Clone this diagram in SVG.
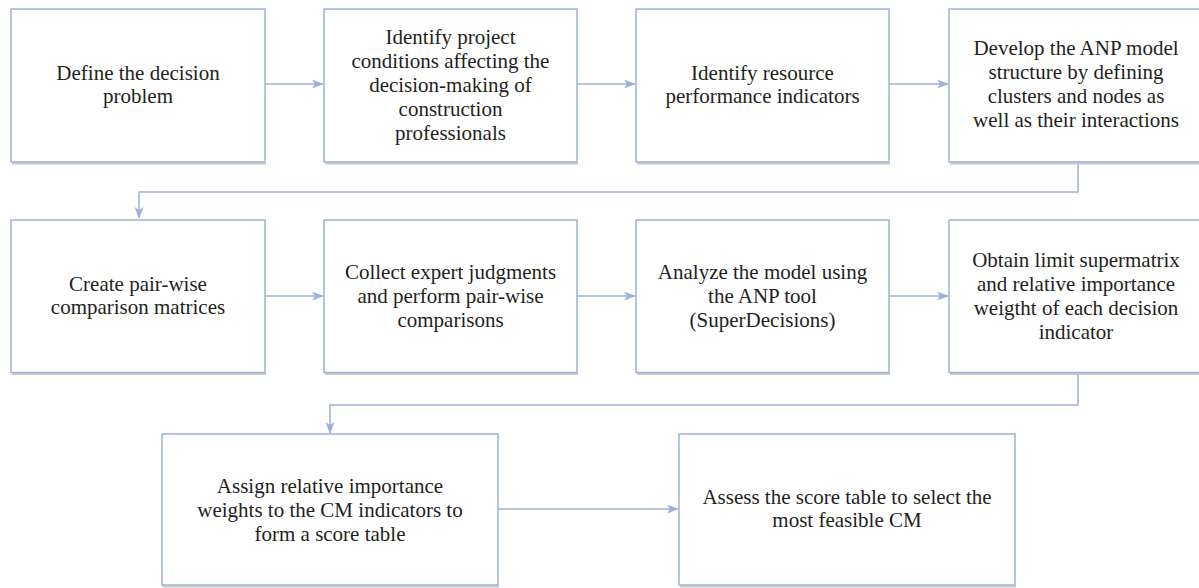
<svg xmlns="http://www.w3.org/2000/svg" width="1199" height="588" viewBox="0 0 1199 588" font-family="Liberation Serif, Tinos, Times New Roman, DejaVu Serif, serif">
<style>
.box{fill:#ffffff;stroke:#9fb1d9;stroke-width:1.5}
.sh{fill:none;stroke:#c9c9cc;stroke-width:2}
.t{font-size:21px;fill:#231f20;text-anchor:middle}
.c{fill:none;stroke:#9fb1d9;stroke-width:1.5}
</style>
<defs>
<marker id="ah" markerWidth="12" markerHeight="10" refX="11" refY="4.5" orient="auto" markerUnits="userSpaceOnUse">
<path d="M0,0 L12,4.5 L0,9 L3,4.5 z" fill="#9fb1d9"/>
</marker>
</defs>
<g id="connectors">
<path class="c" d="M265,84 H323" marker-end="url(#ah)"/>
<path class="c" d="M577,84 H635" marker-end="url(#ah)"/>
<path class="c" d="M889,84 H948" marker-end="url(#ah)"/>
<path class="c" d="M1078,162 V192 H139 V218" marker-end="url(#ah)"/>
<path class="c" d="M265,296 H323" marker-end="url(#ah)"/>
<path class="c" d="M577,296 H635" marker-end="url(#ah)"/>
<path class="c" d="M889,296 H948" marker-end="url(#ah)"/>
<path class="c" d="M1078,373 V405 H330 V433" marker-end="url(#ah)"/>
<path class="c" d="M498,509 H678" marker-end="url(#ah)"/>
</g>
<g id="n1" class="t" font-family="Liberation Serif">
<line class="sh" x1="12" y1="163.5" x2="266" y2="163.5"/>
<rect class="box" x="11" y="9" width="254" height="153"/>
<text x="138" y="80">Define the decision</text>
<text x="138" y="103">problem</text>
</g>
<g id="n2" class="t" font-family="Liberation Serif">
<line class="sh" x1="325" y1="163.5" x2="578" y2="163.5"/>
<rect class="box" x="324" y="9" width="253" height="153"/>
<text x="450.5" y="44">Identify project</text>
<text x="450.5" y="68">conditions affecting the</text>
<text x="450.5" y="92">decision-making of</text>
<text x="450.5" y="116">construction</text>
<text x="450.5" y="140">professionals</text>
</g>
<g id="n3" class="t" font-family="Liberation Serif">
<line class="sh" x1="637" y1="163.5" x2="890" y2="163.5"/>
<rect class="box" x="636" y="9" width="253" height="153"/>
<text x="762.5" y="80">Identify resource</text>
<text x="762.5" y="103">performance indicators</text>
</g>
<g id="n4" class="t" font-family="Liberation Serif">
<line class="sh" x1="950" y1="163.5" x2="1204" y2="163.5"/>
<rect class="box" x="949" y="9" width="254" height="153"/>
<text x="1076" y="55">Develop the ANP model</text>
<text x="1076" y="79">structure by defining</text>
<text x="1076" y="103">clusters and nodes as</text>
<text x="1076" y="127">well as their interactions</text>
</g>
<g id="n5" class="t" font-family="Liberation Serif">
<line class="sh" x1="12" y1="374" x2="266" y2="374"/>
<rect class="box" x="11" y="220" width="254" height="152.5"/>
<text x="138" y="291">Create pair-wise</text>
<text x="138" y="314">comparison matrices</text>
</g>
<g id="n6" class="t" font-family="Liberation Serif">
<line class="sh" x1="325" y1="374" x2="578" y2="374"/>
<rect class="box" x="324" y="220" width="253" height="152.5"/>
<text x="450.5" y="278.5">Collect expert judgments</text>
<text x="450.5" y="302.5">and perform pair-wise</text>
<text x="450.5" y="326.5">comparisons</text>
</g>
<g id="n7" class="t" font-family="Liberation Serif">
<line class="sh" x1="637" y1="374" x2="890" y2="374"/>
<rect class="box" x="636" y="220" width="253" height="152.5"/>
<text x="762.5" y="278.5">Analyze the model using</text>
<text x="762.5" y="302.5">the ANP tool</text>
<text x="762.5" y="326.5">(SuperDecisions)</text>
</g>
<g id="n8" class="t" font-family="Liberation Serif">
<line class="sh" x1="950" y1="374" x2="1204" y2="374"/>
<rect class="box" x="949" y="220" width="254" height="152.5"/>
<text x="1076" y="266.5">Obtain limit supermatrix</text>
<text x="1076" y="290.5">and relative importance</text>
<text x="1076" y="314.5">weigtht of each decision</text>
<text x="1076" y="338.5">indicator</text>
</g>
<g id="n9" class="t" font-family="Liberation Serif">
<line class="sh" x1="163" y1="586.5" x2="499" y2="586.5"/>
<rect class="box" x="162" y="434" width="336" height="151"/>
<text x="330" y="492.5">Assign relative importance</text>
<text x="330" y="516.5">weights to the CM indicators to</text>
<text x="330" y="540.5">form a score table</text>
</g>
<g id="n10" class="t" font-family="Liberation Serif">
<line class="sh" x1="680" y1="586.5" x2="1016" y2="586.5"/>
<rect class="box" x="679" y="434" width="336" height="151"/>
<text x="847" y="504">Assess the score table to select the</text>
<text x="847" y="527">most feasible CM</text>
</g>
</svg>
